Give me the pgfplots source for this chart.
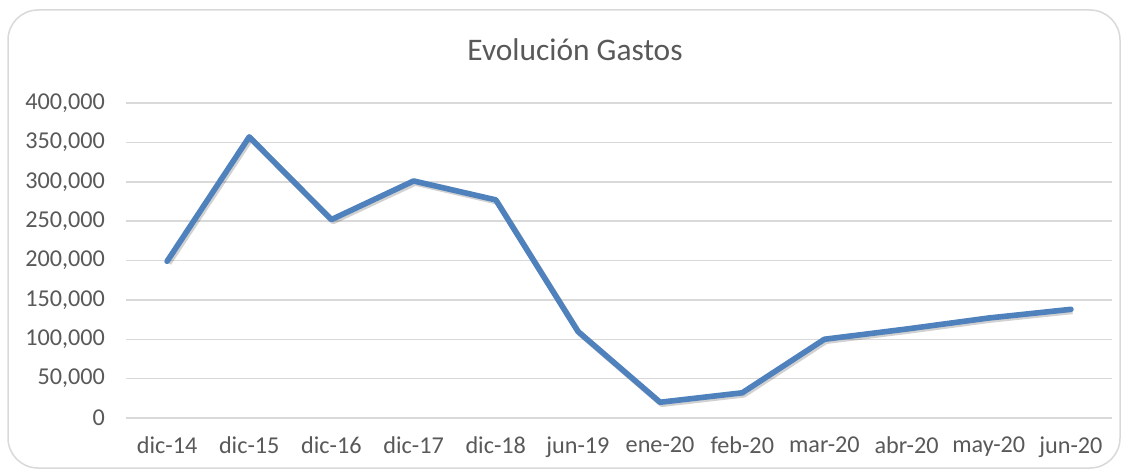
\documentclass[border=0pt]{standalone}
\usepackage{pgfplots}
\pgfplotsset{compat=1.18}
\usepackage{fontspec}
\setmainfont{Carlito}
\definecolor{txt}{HTML}{595959}
\definecolor{grd}{HTML}{D9D9D9}
\definecolor{ln}{HTML}{4F81BD}
\begin{document}
\begin{tikzpicture}
\path[use as bounding box] (0,0) rectangle (564pt,236pt);
\fill[white] (0,0) rectangle (564pt,236pt);
\draw[grd, line width=0.75pt, rounded corners=15pt] (4pt,2pt) rectangle (560pt,231pt);
\begin{axis}[
  at={(63pt,27pt)}, anchor=south west,
  scale only axis, width=493pt, height=157.5pt,
  xmin=-0.5, xmax=11.5, ymin=0, ymax=400000,
  xtick={0,...,11},
  xticklabels={dic-14,dic-15,dic-16,dic-17,dic-18,jun-19,ene-20,feb-20,mar-20,abr-20,may-20,jun-20},
  ytick={0,50000,...,400000},
  scaled y ticks=false,
  /pgf/number format/fixed,
  /pgf/number format/1000 sep={,},
  /pgf/number format/assume math mode=true,
  ymajorgrids, grid style={grd, line width=0.75pt},
  axis line style={draw=none}, major tick length=0pt,
  tick label style={font=\fontsize{12.1}{13}\selectfont, text=txt},
  yticklabel style={xshift=-7pt},
  xticklabel style={yshift=-6pt},
  clip=false,
]
\addplot[black, opacity=0.18, line width=2.8pt, line join=round, shift={(0.8pt,-1pt)}] coordinates {
(0,199000) (1,357000) (2,252000) (3,301000) (4,277000) (5,110000) (6,20000) (7,32000) (8,100000) (9,113000) (10,127000) (11,138000)};
\addplot[ln, line width=2.8pt, line join=round, line cap=round] coordinates {
(0,199000) (1,357000) (2,252000) (3,301000) (4,277000) (5,110000) (6,20000) (7,32000) (8,100000) (9,113000) (10,127000) (11,138000)};
\end{axis}
\node[text=txt, font=\fontsize{15.7}{18}\selectfont] at (287.5pt,211pt) {Evolución Gastos};
\end{tikzpicture}
\end{document}
